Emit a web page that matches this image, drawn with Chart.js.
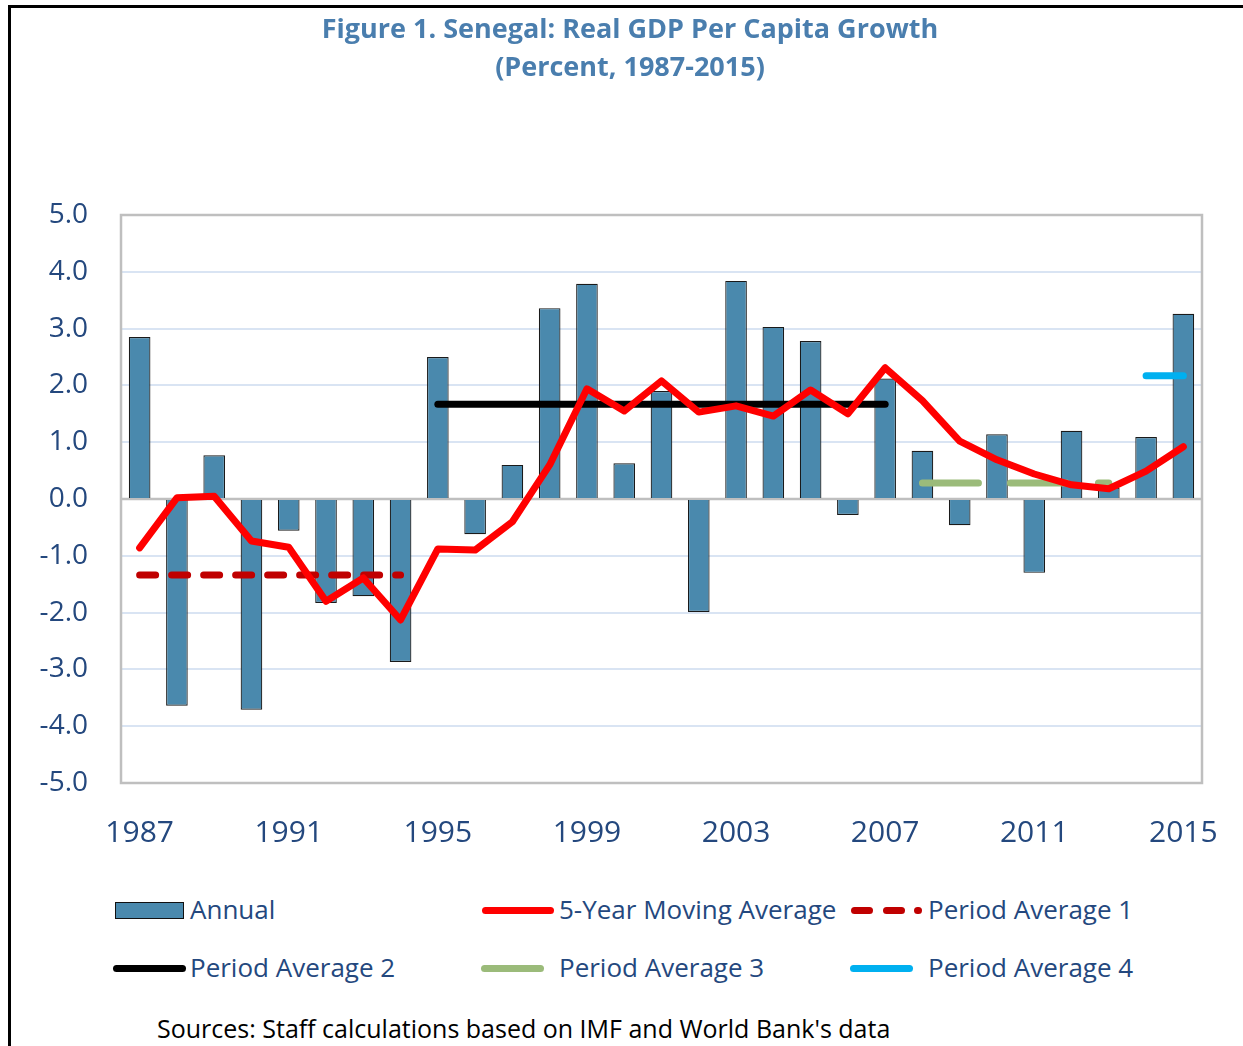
<!DOCTYPE html>
<html>
<head>
<meta charset="utf-8">
<script src="https://cdn.jsdelivr.net/npm/chart.js@4"></script>
<style>
  body { margin: 0; background: #fff; font-family: "Open Sans", sans-serif; }
  #frame { position: relative; width: 1243px; height: 1046px; overflow: hidden; }
  #frame .topline { position: absolute; left: 8px; top: 5px; width: 1235px; height: 3px; background: #000; }
  #frame .leftline { position: absolute; left: 8px; top: 5px; width: 3px; height: 1041px; background: #000; }
  #growthChart { position: absolute; left: 0; top: 0; }
  #title { position: absolute; left: 0; top: 9px; width: 1260px; text-align: center; font-size: 27px; font-weight: bold; line-height: 38px; color: #4a7eae; }
  .leg { position: absolute; font-size: 26px; color: #24487e; line-height: 32px; white-space: nowrap; }
  .sw { position: absolute; }
  #source { position: absolute; left: 157px; top: 1011px; font-size: 25px; color: #000; white-space: nowrap; }
</style>
</head>
<body>
<div id="frame">
  <div class="topline"></div>
  <div class="leftline"></div>
  <canvas id="growthChart" width="1243" height="880"></canvas>
  <div id="title">Figure 1. Senegal: Real GDP Per Capita Growth<br>(Percent, 1987-2015)</div>

  <div class="sw" style="left:115px;top:902px;width:67px;height:15px;background:#4a89ad;border:1px solid #111;"></div>
  <div class="leg" style="left:190px;top:893px;">Annual</div>

  <div class="sw" style="left:482px;top:907px;width:72px;height:7px;background:#ff0000;border-radius:4px;"></div>
  <div class="leg" style="left:559px;top:893px;">5-Year Moving Average</div>

  <div class="sw" style="left:851px;top:907px;width:22px;height:7px;background:#c00000;border-radius:4px;"></div>
  <div class="sw" style="left:883px;top:907px;width:22px;height:7px;background:#c00000;border-radius:4px;"></div>
  <div class="sw" style="left:914px;top:907px;width:8px;height:7px;background:#c00000;border-radius:4px;"></div>
  <div class="leg" style="left:928px;top:893px;">Period Average 1</div>

  <div class="sw" style="left:113px;top:965px;width:73px;height:7px;background:#000;border-radius:4px;"></div>
  <div class="leg" style="left:190px;top:951px;">Period Average 2</div>

  <div class="sw" style="left:481px;top:965px;width:63px;height:7px;background:#9bbb7a;border-radius:4px;"></div>
  <div class="leg" style="left:559px;top:951px;">Period Average 3</div>

  <div class="sw" style="left:850px;top:965px;width:63px;height:7px;background:#00b0f0;border-radius:4px;"></div>
  <div class="leg" style="left:928px;top:951px;">Period Average 4</div>

  <div id="source">Sources: Staff calculations based on IMF and World Bank's data</div>
</div>

<script>
let years = ["1987", "1988", "1989", "1990", "1991", "1992", "1993", "1994", "1995", "1996",
  "1997", "1998", "1999", "2000", "2001", "2002", "2003", "2004", "2005", "2006",
  "2007", "2008", "2009", "2010", "2011", "2012", "2013", "2014", "2015"];

let annual = [2.85, -3.64, 0.77, -3.71, -0.56, -1.83, -1.71, -2.87, 2.50, -0.62,
  0.60, 3.36, 3.79, 0.63, 1.90, -1.99, 3.84, 3.03, 2.78, -0.28,
  2.12, 0.85, -0.46, 1.14, -1.30, 1.20, 0.20, 1.09, 3.26];

let movingAvg = [-0.86, 0.02, 0.05, -0.74, -0.85, -1.80, -1.39, -2.13, -0.88, -0.90,
  -0.40, 0.60, 1.94, 1.55, 2.08, 1.53, 1.64, 1.46, 1.92, 1.50,
  2.31, 1.73, 1.02, 0.69, 0.44, 0.25, 0.18, 0.49, 0.92];

// period averages: value + first/last year of each period
let periodAvg1 = { value: -1.34, from: "1987", to: "1994" };
let periodAvg2 = { value: 1.67, from: "1995", to: "2007" };
let periodAvg3 = { value: 0.28, from: "2008", to: "2013" };
let periodAvg4 = { value: 2.17, from: "2014", to: "2015" };

let yTicks = [-5, -4, -3, -2, -1, 0, 1, 2, 3, 4, 5];

function periodSeries(p) {
  let a = years.indexOf(p.from);
  let b = years.indexOf(p.to);
  return years.map((y, i) => (i >= a && i <= b ? p.value : null));
}

let textBlue = "#24487e";

let plotBorder = {
  id: "plotBorder",
  beforeDatasetsDraw(chart) {
    let { ctx, chartArea } = chart;
    ctx.save();
    ctx.strokeStyle = "#bfbfbf";
    ctx.lineWidth = 2.5;
    ctx.strokeRect(chartArea.left, chartArea.top, chartArea.right - chartArea.left, chartArea.bottom - chartArea.top);
    // zero line
    let y0 = chart.scales.y.getPixelForValue(0);
    ctx.beginPath();
    ctx.moveTo(chartArea.left, y0);
    ctx.lineTo(chartArea.right, y0);
    ctx.stroke();
    ctx.restore();
  },
};

let lineStyle = {
  type: "line",
  fill: false,
  pointRadius: 0,
  borderWidth: 7,
  borderCapStyle: "round",
  borderJoinStyle: "round",
  spanGaps: false,
  tension: 0,
};

new Chart(document.querySelector("#growthChart"), {
  type: "bar",
  data: {
    labels: years,
    datasets: [
      {
        ...lineStyle,
        data: periodSeries(periodAvg1),
        borderColor: "#c00000",
        borderDash: [16, 16],
        order: 2,
      },
      {
        ...lineStyle,
        data: periodSeries(periodAvg2),
        borderColor: "#000000",
        order: 3,
      },
      {
        ...lineStyle,
        data: periodSeries(periodAvg3),
        borderColor: "#9bbb7a",
        borderDash: [56, 32],
        order: 4,
      },
      {
        ...lineStyle,
        data: periodSeries(periodAvg4),
        borderColor: "#00b0f0",
        order: 5,
      },
      {
        ...lineStyle,
        data: movingAvg,
        borderColor: "#ff0000",
        order: 1,
      },
      {
        type: "bar",
        data: annual,
        backgroundColor: "#4a89ad",
        borderColor: "#1a1a1a",
        borderWidth: 1.2,
        barPercentage: 0.58,
        categoryPercentage: 1,
        order: 10,
      },
    ],
  },
  options: {
    responsive: false,
    animation: false,
    layout: { padding: { left: 0, right: 41, top: 215, bottom: 0 } },
    scales: {
      x: {
        grid: { display: false },
        border: { display: false },
        ticks: {
          autoSkip: false,
          maxRotation: 0,
          padding: 24,
          color: textBlue,
          font: { size: 30, family: "Open Sans" },
          callback: (value, index) => (index % 4 === 0 ? years[index] : ""),
        },
        afterFit: (scale) => { scale.height = 880 - 783; },
      },
      y: {
        min: -5,
        max: 5,
        afterBuildTicks: (scale) => { scale.ticks = yTicks.map((v) => ({ value: v })); },
        grid: {
          color: "#d9e4f3",
          lineWidth: 2,
          drawTicks: false,
        },
        border: { display: false },
        ticks: {
          padding: 33,
          color: textBlue,
          font: { size: 28, family: "Open Sans" },
          callback: (value) => value.toFixed(1),
        },
        afterFit: (scale) => { scale.width = 121; },
      },
    },
    plugins: {
      legend: { display: false },
      tooltip: { enabled: false },
    },
  },
  plugins: [plotBorder],
});
</script>
</body>
</html>
